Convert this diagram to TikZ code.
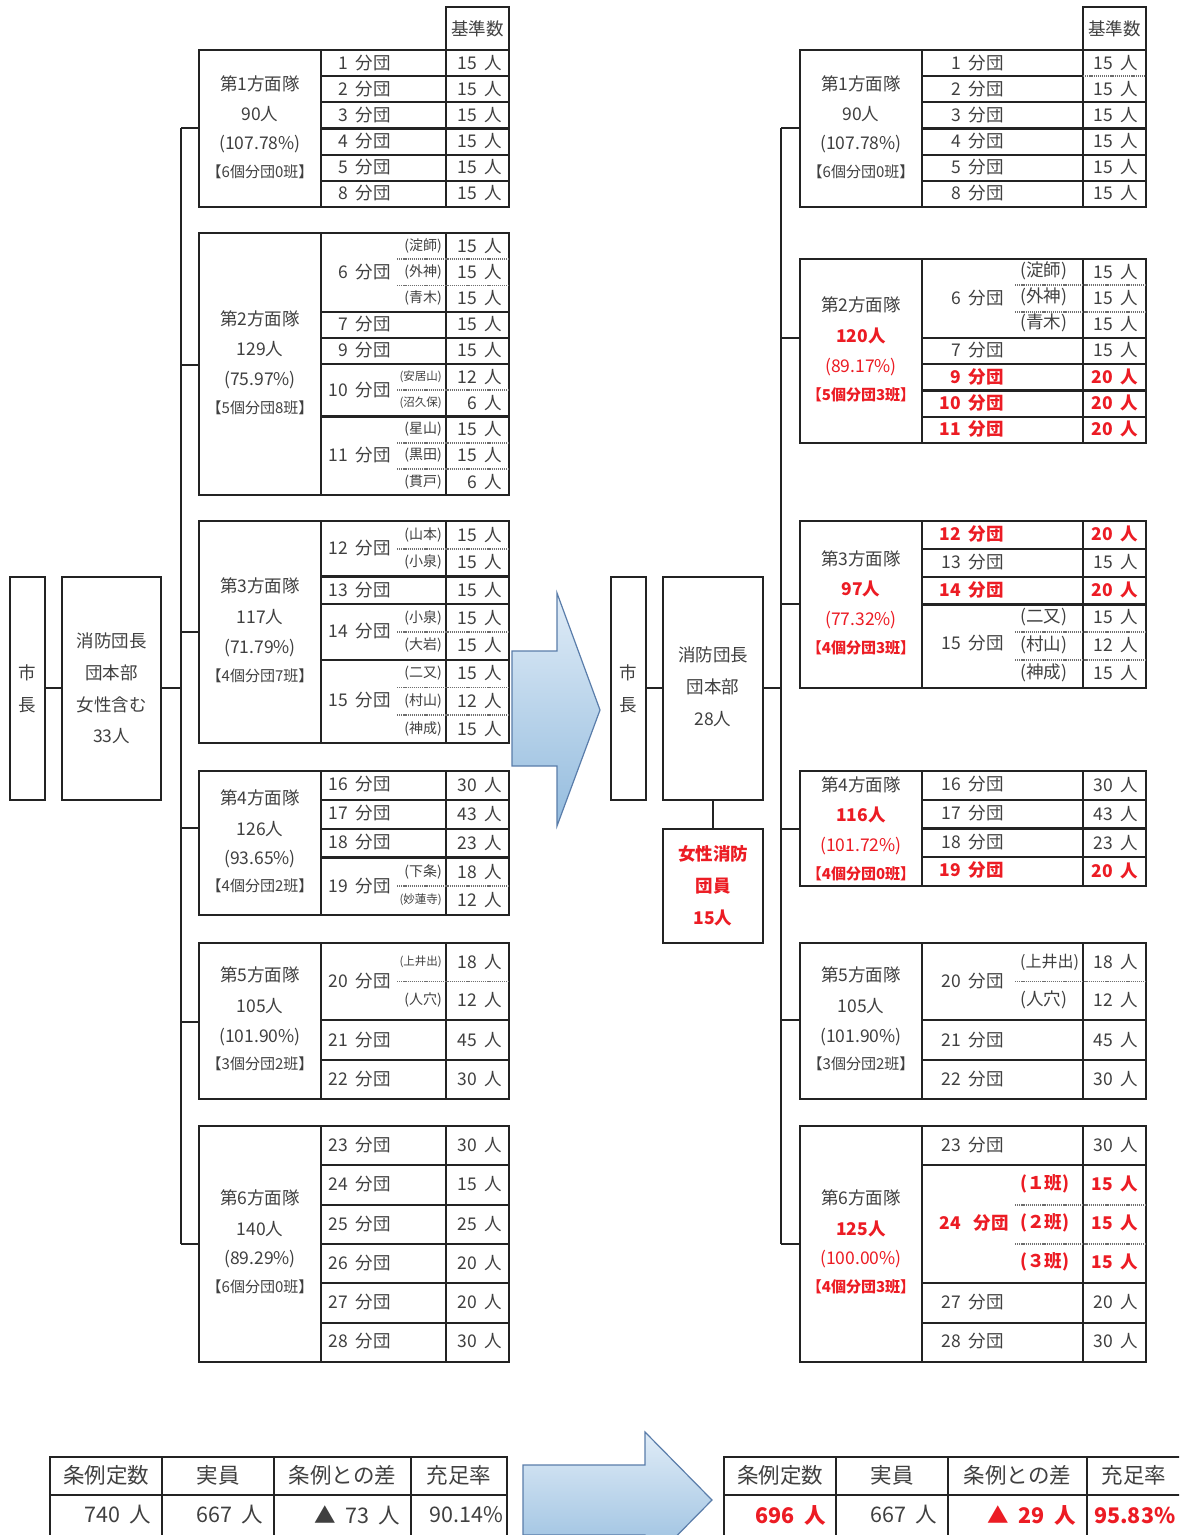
\documentclass[tikz,border=0pt]{standalone}
\usepackage{fontspec}
\setmainfont{Noto Sans CJK JP}[WordSpace=1.9]
\definecolor{tg}{RGB}{64,64,64}
\definecolor{rd}{RGB}{236,28,36}
\definecolor{ln}{RGB}{35,35,35}
\definecolor{dc}{RGB}{110,110,110}
\definecolor{arT}{RGB}{224,236,247}
\definecolor{arB}{RGB}{148,188,222}
\definecolor{arE}{RGB}{90,125,170}
\tikzset{
 frame/.style={draw=ln, line width=2.4pt, inner sep=0pt, outer sep=0pt},
 sep/.style={draw=ln, line width=2.2pt},
 dsep/.style={draw=dc, line width=1.8pt, dash pattern=on 1.2pt off 0.9pt},
 txt/.style={text=tg, inner sep=0pt, font=\fontsize{17.5}{20}\selectfont},
 rb/.style={txt, text=rd, font=\fontsize{17.5}{20}\selectfont\bfseries},
 rn/.style={txt, text=rd},
 sm/.style={font=\fontsize{14}{16}\selectfont},
 xs/.style={font=\fontsize{11.5}{13}\selectfont},
 brk/.style={font=\fontsize{15}{18}\selectfont},
 brkb/.style={font=\fontsize{15}{18}\selectfont\bfseries},
 big/.style={font=\fontsize{21.5}{24}\selectfont},
 bigb/.style={font=\fontsize{21.5}{24}\selectfont\bfseries},
 bigarrow/.style={draw=arE, line width=1.2pt, top color=arT, bottom color=arB},
}
\newcommand\gbox[5]{\node[frame, minimum width={#4-#2}, minimum height={#5-#3}] (#1) at ({(#2+#4)/2},{(#3+#5)/2}) {};}
\newcommand\hs[3]{\draw[sep] (#1,#3) -- (#2,#3);}
\newcommand\hd[3]{\draw[dsep] (#1,#3) -- (#2,#3);}
\newcommand\vs[3]{\draw[sep] (#1,#2) -- (#1,#3);}
% left column text helpers
\newcommand\LB[4][]{\node[txt,anchor=east,#1] (#2) at (391,#3) {#4};}
\newcommand\LC[4][]{\node[txt,anchor=east,#1] (#2) at (502,#3) {#4};}
\newcommand\LS[4][]{\node[txt,anchor=east,#1] (#2) at (442,#3) {#4};}
\newcommand\LN[4][]{\node[txt,#1] (#2) at (260,#3) {#4};}
\newcommand\RB[4][]{\node[txt,anchor=east,#1] (#2) at (1004,#3) {#4};}
\newcommand\RC[4][]{\node[txt,anchor=east,#1] (#2) at (1138,#3) {#4};}
\newcommand\RS[4][]{\node[txt,anchor=west,#1] (#2) at (1020,#3) {#4};}
\newcommand\RN[4][]{\node[txt,#1] (#2) at (861,#3) {#4};}
\begin{document}
\begin{tikzpicture}[x=1pt,y=-1pt]
\useasboundingbox (0,0) rectangle (1179,1535);
\clip (0,0) rectangle (1179,1535);
\fill[white] (0,0) rectangle (1179,1535);

% ===================== LEFT =====================
\node[frame, minimum width=35, minimum height=223, txt, align=center, font=\fontsize{17.5}{32}\selectfont] (mayorL) at (27.5,688.5) {市\\長};
\node[frame, minimum width=99, minimum height=223, txt, align=center, font=\fontsize{17.5}{31.7}\selectfont] (chiefL) at (111.5,688.5) {消防団長\\団本部\\女性含む\\33人};
\draw[sep] (mayorL.east |- 0,688) -- (chiefL.west |- 0,688);
\coordinate (LBt) at (181,128);
\coordinate (LBb) at (181,1244);
\draw[sep] (chiefL.east |- 0,688) -- (LBt |- 0,688);
\draw[sep] (LBt) -- (LBb);

% header
\gbox{LH}{446}{7}{509}{50}
\node[txt] (LHt) at (LH) {基準数};

% group 1
\gbox{LG1}{199}{50}{509}{207}
\vs{321}{50}{207}\vs{446}{50}{207}
\foreach \y in {76.2,102.3,128.5,154.7,180.8} {\hs{321}{509}{\y}}
\LN{L1a}{84}{第1方面隊}\LN{L1b}{114}{90人}\LN{L1c}{144}{(107.78\%)}\LN[brk]{L1d}{172}{【6個分団0班】}
\LB{L1r1}{63}{1 分団}\LC{L1c1}{63}{15 人}
\LB{L1r2}{89}{2 分団}\LC{L1c2}{89}{15 人}
\LB{L1r3}{115}{3 分団}\LC{L1c3}{115}{15 人}
\LB{L1r4}{141}{4 分団}\LC{L1c4}{141}{15 人}
\LB{L1r5}{167}{5 分団}\LC{L1c5}{167}{15 人}
\LB{L1r6}{193}{8 分団}\LC{L1c6}{193}{15 人}

% group 2
\gbox{LG2}{199}{233}{509}{495}
\vs{321}{233}{495}\vs{446}{233}{495}
\foreach \y in {311.6,337.8,364,416.4} {\hs{321}{509}{\y}}
\foreach \y in {259.2,285.4,390.2,442.6,468.8} {\hd{397}{509}{\y}}
\LN{L2a}{319}{第2方面隊}\LN{L2b}{349}{129人}\LN{L2c}{380}{(75.97\%)}\LN[brk]{L2d}{408}{【5個分団8班】}
\LB{L2r1}{272}{6 分団}\LB{L2r2}{324}{7 分団}\LB{L2r3}{350}{9 分団}\LB{L2r4}{390}{10 分団}\LB{L2r5}{455}{11 分団}
\LS[sm]{L2s1}{246}{(淀師)}\LS[sm]{L2s2}{272}{(外神)}\LS[sm]{L2s3}{298}{(青木)}
\LS[xs]{L2s4}{377}{(安居山)}\LS[xs]{L2s5}{403}{(沼久保)}
\LS[sm]{L2s6}{429}{(星山)}\LS[sm]{L2s7}{455}{(黒田)}\LS[sm]{L2s8}{482}{(貫戸)}
\LC{L2c1}{246}{15 人}\LC{L2c2}{272}{15 人}\LC{L2c3}{298}{15 人}\LC{L2c4}{324}{15 人}\LC{L2c5}{350}{15 人}
\LC{L2c6}{377}{12 人}\LC{L2c7}{403}{6 人}\LC{L2c8}{429}{15 人}\LC{L2c9}{455}{15 人}\LC{L2c10}{482}{6 人}

% group 3
\gbox{LG3}{199}{521}{509}{743}
\vs{321}{521}{743}\vs{446}{521}{743}
\foreach \y in {576.5,604.25,659.75} {\hs{321}{509}{\y}}
\foreach \y in {548.75,632,687.5,715.25} {\hd{397}{509}{\y}}
\LN{L3a}{586}{第3方面隊}\LN{L3b}{617}{117人}\LN{L3c}{648}{(71.79\%)}\LN[brk]{L3d}{676}{【4個分団7班】}
\LB{L3r1}{548}{12 分団}\LB{L3r2}{590}{13 分団}\LB{L3r3}{631}{14 分団}\LB{L3r4}{700}{15 分団}
\LS[sm]{L3s1}{535}{(山本)}\LS[sm]{L3s2}{562}{(小泉)}\LS[sm]{L3s3}{618}{(小泉)}\LS[sm]{L3s4}{645}{(大岩)}
\LS[sm]{L3s5}{673}{(二又)}\LS[sm]{L3s6}{701}{(村山)}\LS[sm]{L3s7}{729}{(神成)}
\LC{L3c1}{535}{15 人}\LC{L3c2}{562}{15 人}\LC{L3c3}{590}{15 人}\LC{L3c4}{618}{15 人}
\LC{L3c5}{645}{15 人}\LC{L3c6}{673}{15 人}\LC{L3c7}{701}{12 人}\LC{L3c8}{729}{15 人}

% group 4
\gbox{LG4}{199}{771}{509}{915}
\vs{321}{771}{915}\vs{446}{771}{915}
\foreach \y in {799.8,828.6,857.4} {\hs{321}{509}{\y}}
\hd{397}{509}{886.2}
\LN{L4a}{798}{第4方面隊}\LN{L4b}{829}{126人}\LN{L4c}{859}{(93.65\%)}\LN[brk]{L4d}{886}{【4個分団2班】}
\LB{L4r1}{784}{16 分団}\LB{L4r2}{813}{17 分団}\LB{L4r3}{842}{18 分団}\LB{L4r4}{886}{19 分団}
\LS[sm]{L4s1}{872}{(下条)}\LS[xs]{L4s2}{900}{(妙蓮寺)}
\LC{L4c1}{785}{30 人}\LC{L4c2}{814}{43 人}\LC{L4c3}{843}{23 人}\LC{L4c4}{872}{18 人}\LC{L4c5}{900}{12 人}

% group 5
\gbox{LG5}{199}{943}{509}{1099}
\vs{321}{943}{1099}\vs{446}{943}{1099}
\foreach \y in {1020,1060} {\hs{321}{509}{\y}}
\hd{397}{509}{981.5}
\LN{L5a}{975}{第5方面隊}\LN{L5b}{1006}{105人}\LN{L5c}{1037}{(101.90\%)}\LN[brk]{L5d}{1064}{【3個分団2班】}
\LB{L5r1}{981}{20 分団}\LB{L5r2}{1040}{21 分団}\LB{L5r3}{1079}{22 分団}
\LS[xs]{L5s1}{962}{(上井出)}\LS[sm]{L5s2}{1000}{(人穴)}
\LC{L5c1}{962}{18 人}\LC{L5c2}{1000}{12 人}\LC{L5c3}{1040}{45 人}\LC{L5c4}{1079}{30 人}

% group 6
\gbox{LG6}{199}{1126}{509}{1362}
\vs{321}{1126}{1362}\vs{446}{1126}{1362}
\foreach \y in {1165.3,1204.7,1244,1283.3,1322.7} {\hs{321}{509}{\y}}
\LN{L6a}{1198}{第6方面隊}\LN{L6b}{1229}{140人}\LN{L6c}{1259}{(89.29\%)}\LN[brk]{L6d}{1287}{【6個分団0班】}
\LB{L6r1}{1145}{23 分団}\LB{L6r2}{1184}{24 分団}\LB{L6r3}{1224}{25 分団}\LB{L6r4}{1263}{26 分団}\LB{L6r5}{1302}{27 分団}\LB{L6r6}{1341}{28 分団}
\LC{L6c1}{1145}{30 人}\LC{L6c2}{1184}{15 人}\LC{L6c3}{1224}{25 人}\LC{L6c4}{1263}{20 人}\LC{L6c5}{1302}{20 人}\LC{L6c6}{1341}{30 人}

% branches left
\draw[sep] (LBt |- 0,128) -- (LG1.west |- 0,128);
\draw[sep] (LBt |- 0,365) -- (LG2.west |- 0,365);
\draw[sep] (LBt |- 0,632) -- (LG3.west |- 0,632);
\draw[sep] (LBt |- 0,828) -- (LG4.west |- 0,828);
\draw[sep] (LBt |- 0,1022) -- (LG5.west |- 0,1022);
\draw[sep] (LBt |- 0,1244) -- (LG6.west |- 0,1244);

% ===================== ARROW =====================
\path[bigarrow] (512,651) -- (557,651) -- (557,593) -- (600,710) -- (557,826) -- (557,766) -- (512,766) -- cycle;

% ===================== RIGHT =====================
\node[frame, minimum width=35, minimum height=223, txt, align=center, font=\fontsize{17.5}{32}\selectfont] (mayorR) at (628.5,688.5) {市\\長};
\node[frame, minimum width=100, minimum height=223] (chiefR) at (713,688.5) {};
\node[txt, align=center, font=\fontsize{17.5}{32}\selectfont] (chiefRt) at (713,687) {消防団長\\団本部\\28人};
\node[frame, minimum width=100, minimum height=114, rb, align=center, font=\fontsize{17.5}{32}\selectfont\bfseries] (femR) at (713,886) {女性消防\\団員\\15人};
\draw[sep] (mayorR.east |- 0,688) -- (chiefR.west |- 0,688);
\draw[sep] (chiefR.south) -- (femR.north);
\coordinate (RBt) at (781,128);
\coordinate (RBb) at (781,1244);
\draw[sep] (chiefR.east |- 0,688) -- (RBt |- 0,688);
\draw[sep] (RBt) -- (RBb);

\gbox{RH}{1083}{7}{1146}{50}
\node[txt] (RHt) at (RH) {基準数};

% group 1
\gbox{RG1}{800}{50}{1146}{207}
\vs{922}{50}{207}\vs{1083}{50}{207}
\foreach \y in {102.3,128.5,154.7,180.8} {\hs{922}{1146}{\y}}
\hs{922}{1083}{76.2}\hd{1083}{1146}{76.2}
\RN{R1a}{84}{第1方面隊}\RN{R1b}{114}{90人}\RN{R1c}{144}{(107.78\%)}\RN[brk]{R1d}{172}{【6個分団0班】}
\RB{R1r1}{63}{1 分団}\RC{R1c1}{63}{15 人}
\RB{R1r2}{89}{2 分団}\RC{R1c2}{89}{15 人}
\RB{R1r3}{115}{3 分団}\RC{R1c3}{115}{15 人}
\RB{R1r4}{141}{4 分団}\RC{R1c4}{141}{15 人}
\RB{R1r5}{167}{5 分団}\RC{R1c5}{167}{15 人}
\RB{R1r6}{193}{8 分団}\RC{R1c6}{193}{15 人}

% group 2
\gbox{RG2}{800}{259}{1146}{443}
\vs{922}{259}{443}\vs{1083}{259}{443}
\foreach \y in {337.9,364.2,390.5,416.8} {\hs{922}{1146}{\y}}
\foreach \y in {285.3,311.6} {\hd{1015}{1146}{\y}}
\RN{R2a}{305}{第2方面隊}\RN[rb]{R2b}{336}{120人}\RN[rn]{R2c}{367}{(89.17\%)}\RN[rb,brkb]{R2d}{395}{【5個分団3班】}
\RB{R2r1}{298}{6 分団}\RB{R2r2}{350}{7 分団}\RB[rb]{R2r3}{377}{9 分団}\RB[rb]{R2r4}{403}{10 分団}\RB[rb]{R2r5}{429}{11 分団}
\RS{R2s1}{271}{(淀師)}\RS{R2s2}{297}{(外神)}\RS{R2s3}{323}{(青木)}
\RC{R2c1}{272}{15 人}\RC{R2c2}{298}{15 人}\RC{R2c3}{324}{15 人}\RC{R2c4}{350}{15 人}
\RC[rb]{R2c5}{377}{20 人}\RC[rb]{R2c6}{403}{20 人}\RC[rb]{R2c7}{429}{20 人}

% group 3
\gbox{RG3}{800}{521}{1146}{688}
\vs{922}{521}{688}\vs{1083}{521}{688}
\foreach \y in {548.8,576.6,604.4} {\hs{922}{1146}{\y}}
\foreach \y in {632.2,660} {\hd{1015}{1146}{\y}}
\RN{R3a}{559}{第3方面隊}\RN[rb]{R3b}{589}{97人}\RN[rn]{R3c}{620}{(77.32\%)}\RN[rb,brkb]{R3d}{648}{【4個分団3班】}
\RB[rb]{R3r1}{534}{12 分団}\RB{R3r2}{562}{13 分団}\RB[rb]{R3r3}{590}{14 分団}\RB{R3r4}{643}{15 分団}
\RS{R3s1}{617}{(二又)}\RS{R3s2}{645}{(村山)}\RS{R3s3}{673}{(神成)}
\RC[rb]{R3c1}{534}{20 人}\RC{R3c2}{562}{15 人}\RC[rb]{R3c3}{590}{20 人}
\RC{R3c4}{617}{15 人}\RC{R3c5}{645}{12 人}\RC{R3c6}{673}{15 人}

% group 4
\gbox{RG4}{800}{771}{1146}{886}
\vs{922}{771}{886}\vs{1083}{771}{886}
\foreach \y in {799.75,828.5,857.25} {\hs{922}{1146}{\y}}
\RN{R4a}{785}{第4方面隊}\RN[rb]{R4b}{815}{116人}\RN[rn]{R4c}{846}{(101.72\%)}\RN[rb,brkb]{R4d}{874}{【4個分団0班】}
\RB{R4r1}{784}{16 分団}\RB{R4r2}{813}{17 分団}\RB{R4r3}{842}{18 分団}\RB[rb]{R4r4}{870}{19 分団}
\RC{R4c1}{785}{30 人}\RC{R4c2}{814}{43 人}\RC{R4c3}{843}{23 人}\RC[rb]{R4c4}{871}{20 人}

% group 5
\gbox{RG5}{800}{943}{1146}{1099}
\vs{922}{943}{1099}\vs{1083}{943}{1099}
\foreach \y in {1020,1060} {\hs{922}{1146}{\y}}
\hd{1015}{1146}{981.5}
\RN{R5a}{975}{第5方面隊}\RN{R5b}{1006}{105人}\RN{R5c}{1037}{(101.90\%)}\RN[brk]{R5d}{1064}{【3個分団2班】}
\RB{R5r1}{981}{20 分団}\RB{R5r2}{1040}{21 分団}\RB{R5r3}{1079}{22 分団}
\RS[font=\fontsize{16}{18}\selectfont]{R5s1}{962}{(上井出)}\RS{R5s2}{1000}{(人穴)}
\RC{R5c1}{962}{18 人}\RC{R5c2}{1000}{12 人}\RC{R5c3}{1040}{45 人}\RC{R5c4}{1079}{30 人}

% group 6
\gbox{RG6}{800}{1126}{1146}{1362}
\vs{922}{1126}{1362}\vs{1083}{1126}{1362}
\foreach \y in {1165.3,1283.3,1322.7} {\hs{922}{1146}{\y}}
\foreach \y in {1204.7,1244} {\hd{1015}{1146}{\y}}
\RN{R6a}{1198}{第6方面隊}\RN[rb]{R6b}{1229}{125人}\RN[rn]{R6c}{1259}{(100.00\%)}\RN[rb,brkb]{R6d}{1287}{【4個分団3班】}
\RB{R6r1}{1145}{23 分団}\node[rb,anchor=east] (R6r2) at (1009,1223) {24\hspace{0.75em}分団};\RB{R6r3}{1302}{27 分団}\RB{R6r4}{1341}{28 分団}
\RS[rb]{R6s1}{1184}{(１班)}\RS[rb]{R6s2}{1223}{(２班)}\RS[rb]{R6s3}{1262}{(３班)}
\RC{R6c1}{1145}{30 人}\RC[rb]{R6c2}{1184}{15 人}\RC[rb]{R6c3}{1223}{15 人}\RC[rb]{R6c4}{1262}{15 人}\RC{R6c5}{1302}{20 人}\RC{R6c6}{1341}{30 人}

% branches right
\draw[sep] (RBt |- 0,128) -- (RG1.west |- 0,128);
\draw[sep] (RBt |- 0,338) -- (RG2.west |- 0,338);
\draw[sep] (RBt |- 0,604) -- (RG3.west |- 0,604);
\draw[sep] (RBt |- 0,829) -- (RG4.west |- 0,829);
\draw[sep] (RBt |- 0,1020) -- (RG5.west |- 0,1020);
\draw[sep] (RBt |- 0,1244) -- (RG6.west |- 0,1244);

% ===================== BOTTOM TABLES =====================
\gbox{BT1}{50}{1457}{507}{1550}
\hs{50}{507}{1495}
\vs{162}{1457}{1550}\vs{274}{1457}{1550}\vs{411}{1457}{1550}
\node[txt,big] (B1h1) at (106,1475) {条例定数};
\node[txt,big] (B1h2) at (218,1475) {実員};
\node[txt,big] (B1h3) at (342.5,1475) {条例との差};
\node[txt,big] (B1h4) at (459,1475) {充足率};
\node[txt,big,anchor=east] (B1v1) at (151,1515) {740 人};
\node[txt,big,anchor=east] (B1v2) at (263,1515) {667 人};
\node[txt,big,anchor=east] (B1v3) at (400,1515) {▲ 73 人};
\node[txt,big,anchor=east] (B1v4) at (503,1515) {90.14\%};

\path[bigarrow] (523,1465) -- (645,1465) -- (645,1432) -- (712,1500) -- (645,1568) -- (645,1535) -- (523,1535) -- cycle;

\gbox{BT2}{724}{1457}{1200}{1550}
\hs{724}{1200}{1495}
\vs{836}{1457}{1550}\vs{948}{1457}{1550}\vs{1087}{1457}{1550}
\node[txt,big] (B2h1) at (780,1475) {条例定数};
\node[txt,big] (B2h2) at (892,1475) {実員};
\node[txt,big] (B2h3) at (1017.5,1475) {条例との差};
\node[txt,big] (B2h4) at (1134,1475) {充足率};
\node[rb,bigb,anchor=east] (B2v1) at (826,1515) {696 人};
\node[txt,big,anchor=east] (B2v2) at (937,1515) {667 人};
\node[rb,bigb,anchor=east] (B2v3) at (1076,1515) {▲ 29 人};
\node[rb,bigb,anchor=west] (B2v4) at (1094,1515) {95.83\%};
\end{tikzpicture}
\end{document}
